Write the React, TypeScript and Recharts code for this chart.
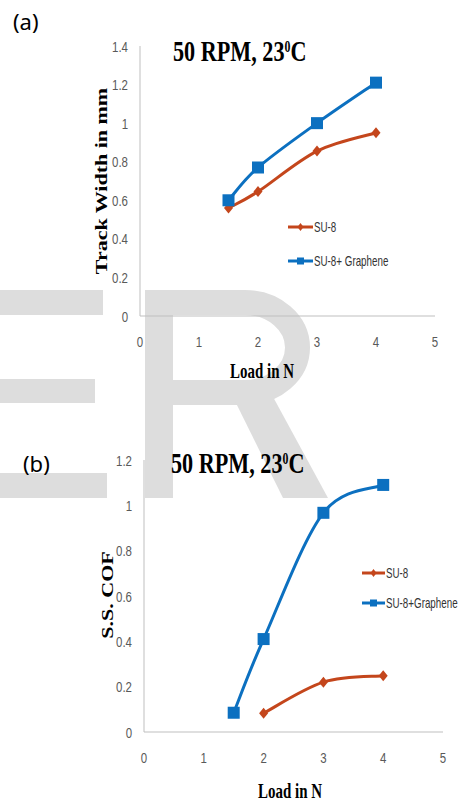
import React from 'react';
import { LineChart, Line, XAxis, YAxis, Legend } from 'recharts';

// ---- data (a): Track width ----
const loadsA = [1.5, 2, 3, 4];
const su8WidthA = [0.56, 0.645, 0.855, 0.95];
const grapheneWidthA = [0.6, 0.77, 1.0, 1.21];

// ---- data (b): S.S. COF ----
const loadsSu8B = [2, 3, 4];
const su8CofB = [0.083, 0.22, 0.248];
const loadsGrapheneB = [1.5, 2, 3, 4];
const grapheneCofB = [0.085, 0.41, 0.967, 1.09];

const xTicks = [0, 1, 2, 3, 4, 5];
const yTicksA = [0, 0.2, 0.4, 0.6, 0.8, 1, 1.2, 1.4];
const yTicksB = [0, 0.2, 0.4, 0.6, 0.8, 1, 1.2];

const seriesNamesA = ['SU-8', 'SU-8+ Graphene'];
const seriesNamesB = ['SU-8', 'SU-8+Graphene'];
const titleMain = '50 RPM, 23';
const titleSup = '0';
const titleEnd = 'C';

const SU8_COLOR = '#C4461C';
const GRA_COLOR = '#0C70C0';
const AXIS_COLOR = '#BFBFBF';
const TICK_COLOR = '#595959';

const zip = (xs: number[], ys: number[]) => xs.map((x, i) => ({ x, y: ys[i] }));
const dataSu8A = zip(loadsA, su8WidthA);
const dataGraA = zip(loadsA, grapheneWidthA);
const dataSu8B = zip(loadsSu8B, su8CofB);
const dataGraB = zip(loadsGrapheneB, grapheneCofB);

// Excel-like smoothing (Catmull-Rom via cubic Bezier)
const smoothCurve: any = (context: any) => {
  let pts: number[][] = [];
  return {
    areaStart() {},
    areaEnd() {},
    lineStart() {
      pts = [];
    },
    point(x: number, y: number) {
      pts.push([+x, +y]);
    },
    lineEnd() {
      if (!pts.length) return;
      context.moveTo(pts[0][0], pts[0][1]);
      for (let i = 0; i < pts.length - 1; i++) {
        const p0 = pts[i - 1] || pts[i];
        const p1 = pts[i];
        const p2 = pts[i + 1];
        const p3 = pts[i + 2] || p2;
        const c1x = p1[0] + (p2[0] - p0[0]) / 6;
        const c1y = p1[1] + (p2[1] - p0[1]) / 6;
        const c2x = p2[0] - (p3[0] - p1[0]) / 6;
        const c2y = p2[1] - (p3[1] - p1[1]) / 6;
        context.bezierCurveTo(c1x, c1y, c2x, c2y, p2[0], p2[1]);
      }
    },
  };
};

const YTick = (props: any) => {
  const { x, y, payload } = props;
  return (
    <text
      transform={`translate(${x},${y + 5.5}) scale(0.74,1)`}
      textAnchor="end"
      fontFamily="Liberation Sans, Arial, sans-serif"
      fontSize={15.5}
      fill={TICK_COLOR}
    >
      {String(payload.value)}
    </text>
  );
};

const XTick = (props: any) => {
  const { x, y, payload } = props;
  return (
    <text
      transform={`translate(${x},${y + 31}) scale(0.74,1)`}
      textAnchor="middle"
      fontFamily="Liberation Sans, Arial, sans-serif"
      fontSize={15.5}
      fill={TICK_COLOR}
    >
      {String(payload.value)}
    </text>
  );
};

const squareDot = (size: number) => (p: any) => {
  const { cx, cy, index } = p;
  if (cx == null || cy == null) return <g key={index} />;
  return <rect key={index} x={cx - size / 2} y={cy - size / 2} width={size} height={size} fill={GRA_COLOR} />;
};

const diamondDot = (w: number, h: number) => (p: any) => {
  const { cx, cy, index } = p;
  if (cx == null || cy == null) return <g key={index} />;
  return (
    <path
      key={index}
      d={`M${cx},${cy - h / 2} L${cx + w / 2},${cy} L${cx},${cy + h / 2} L${cx - w / 2},${cy} Z`}
      fill={SU8_COLOR}
    />
  );
};

const makeLegend = (names: string[], rowYs: number[], x0: number, x1: number, w: number, h: number) => () => (
  <svg width={w} height={h} style={{ display: 'block' }}>
    {names.map((name, i) => {
      const color = i === 0 ? SU8_COLOR : GRA_COLOR;
      const y = rowYs[i];
      const cx = (x0 + x1) / 2;
      return (
        <g key={name}>
          <line x1={x0} x2={x1} y1={y} y2={y} stroke={color} strokeWidth={3} />
          {i === 0 ? (
            <path d={`M${cx},${y - 4} L${cx + 3},${y} L${cx},${y + 4} L${cx - 3},${y} Z`} fill={color} />
          ) : (
            <rect x={cx - 3.5} y={y - 3.5} width={7} height={7} fill={color} />
          )}
          <text
            transform={`translate(${x1 + 1},${y + 5}) scale(0.7,1)`}
            fontFamily="Liberation Sans, Arial, sans-serif"
            fontSize={14}
            fill="#333333"
          >
            {name}
          </text>
        </g>
      );
    })}
  </svg>
);

const Title = ({ x, y }: { x: number; y: number }) => (
  <text
    transform={`translate(${x},${y}) scale(0.74,1)`}
    fontFamily="Liberation Serif, Times New Roman, serif"
    fontWeight="bold"
    fontSize={30}
    fill="#000"
  >
    {titleMain}
    <tspan fontSize={16} dy={-9}>
      {titleSup}
    </tspan>
    <tspan dy={9}>{titleEnd}</tspan>
  </text>
);

const serifBold = 'Liberation Serif, Times New Roman, serif';
const WM = '#DDDDDD';

export default function App() {
  return (
    <div style={{ position: 'absolute', left: 0, top: 0, width: 460, height: 802, background: '#fff', overflow: 'hidden' }}>
      {/* background watermark */}
      <svg width={460} height={802} style={{ position: 'absolute', left: 0, top: 0 }}>
        <rect x={0} y={290} width={103} height={25} fill={WM} />
        <rect x={0} y={379} width={95} height={24} fill={WM} />
        <rect x={0} y={473} width={107} height={25} fill={WM} />
        <rect x={145} y={290} width={28} height={208} fill={WM} />
        <path d="M159,302.5 H245 A52.5,45 0 0 1 245,392.5 H159" fill="none" stroke={WM} strokeWidth={25} />
        <polygon points="232,395 272,395 328,498 283,498" fill={WM} />
      </svg>

      {/* chart (a) */}
      <div style={{ position: 'absolute', left: 0, top: 0 }}>
        <LineChart width={460} height={400} margin={{ top: 46, right: 25, bottom: 54, left: 100 }}>
          <XAxis
            type="number"
            dataKey="x"
            domain={[0, 5]}
            ticks={xTicks}
            tick={<XTick />}
            tickLine={false}
            tickSize={0}
            tickMargin={0}
            height={30}
            axisLine={{ stroke: AXIS_COLOR }}
            allowDataOverflow
          />
          <YAxis
            type="number"
            domain={[0, 1.4]}
            ticks={yTicksA}
            tick={<YTick />}
            tickLine={false}
            tickSize={0}
            tickMargin={12}
            width={40}
            axisLine={{ stroke: AXIS_COLOR }}
          />
          <Line
            data={dataSu8A}
            dataKey="y"
            name={seriesNamesA[0]}
            type={smoothCurve}
            stroke={SU8_COLOR}
            strokeWidth={3}
            dot={diamondDot(9, 11)}
            isAnimationActive={false}
          />
          <Line
            data={dataGraA}
            dataKey="y"
            name={seriesNamesA[1]}
            type={smoothCurve}
            stroke={GRA_COLOR}
            strokeWidth={3}
            dot={squareDot(12)}
            isAnimationActive={false}
          />
          <Legend
            layout="vertical"
            align="center"
            verticalAlign="middle"
            content={makeLegend(seriesNamesA, [12, 46], 3, 28, 175, 60)}
            wrapperStyle={{ position: 'absolute', left: 285, top: 215, width: 175, height: 60 }}
          />
        </LineChart>
      </div>

      {/* chart (b) */}
      <div style={{ position: 'absolute', left: 0, top: 400 }}>
        <LineChart width={460} height={402} margin={{ top: 60, right: 17, bottom: 40, left: 104 }}>
          <XAxis
            type="number"
            dataKey="x"
            domain={[0, 5]}
            ticks={xTicks}
            tick={<XTick />}
            tickLine={false}
            tickSize={0}
            tickMargin={0}
            height={30}
            axisLine={{ stroke: AXIS_COLOR }}
            allowDataOverflow
          />
          <YAxis
            type="number"
            domain={[0, 1.2]}
            ticks={yTicksB}
            tick={<YTick />}
            tickLine={false}
            tickSize={0}
            tickMargin={12}
            width={40}
            axisLine={{ stroke: AXIS_COLOR }}
          />
          <Line
            data={dataSu8B}
            dataKey="y"
            name={seriesNamesB[0]}
            type={smoothCurve}
            stroke={SU8_COLOR}
            strokeWidth={3}
            dot={diamondDot(9, 11)}
            isAnimationActive={false}
          />
          <Line
            data={dataGraB}
            dataKey="y"
            name={seriesNamesB[1]}
            type={smoothCurve}
            stroke={GRA_COLOR}
            strokeWidth={3}
            dot={squareDot(12)}
            isAnimationActive={false}
          />
          <Legend
            layout="vertical"
            align="center"
            verticalAlign="middle"
            content={makeLegend(seriesNamesB, [13, 43], 4, 27, 102, 60)}
            wrapperStyle={{ position: 'absolute', left: 358, top: 160, width: 102, height: 60 }}
          />
        </LineChart>
      </div>

      {/* text overlay */}
      <svg width={460} height={802} style={{ position: 'absolute', left: 0, top: 0, pointerEvents: 'none' }}>
        <text x={13} y={30} fontFamily="Noto Sans, sans-serif" fontSize={22} fill="#000">(a)</text>
        <text x={23} y={472} fontFamily="Noto Sans, sans-serif" fontSize={22} fill="#000">(b)</text>
        <Title x={173} y={61} />
        <Title x={171} y={473} />
        <text
          transform="translate(107,181) scale(0.8,1) rotate(-90)"
          textAnchor="middle"
          fontFamily={serifBold}
          fontWeight="bold"
          fontSize={22}
          fill="#000"
        >
          Track Width in mm
        </text>
        <text
          transform="translate(113,595) scale(0.8,1) rotate(-90)"
          textAnchor="middle"
          fontFamily={serifBold}
          fontWeight="bold"
          fontSize={22}
          fill="#000"
        >
          S.S. COF
        </text>
        <text
          transform="translate(262,378) scale(0.68,1)"
          textAnchor="middle"
          fontFamily={serifBold}
          fontWeight="bold"
          fontSize={22}
          fill="#000"
        >
          Load in N
        </text>
        <text
          transform="translate(290,798) scale(0.68,1)"
          textAnchor="middle"
          fontFamily={serifBold}
          fontWeight="bold"
          fontSize={22}
          fill="#000"
        >
          Load in N
        </text>
      </svg>
    </div>
  );
}
